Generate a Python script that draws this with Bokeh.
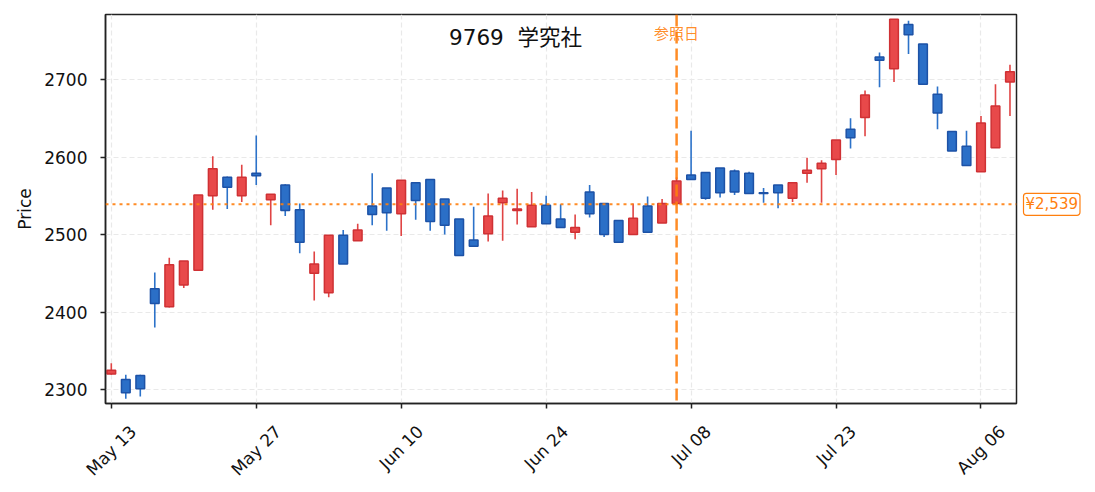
import math
import pandas as pd
from bokeh.plotting import figure
from bokeh.layouts import row
from bokeh.models import ColumnDataSource, FixedTicker, Label, Span, LinearAxis
from bokeh.embed import file_html
from bokeh.resources import INLINE

# ---- data ----
opens = [2320, 2313, 2318, 2430, 2407, 2435, 2454, 2550, 2574, 2550,
         2579, 2545, 2564, 2532, 2450, 2425, 2499, 2492, 2537, 2560,
         2527, 2567, 2571, 2546, 2520, 2493, 2501, 2541, 2531, 2510,
         2538, 2520, 2503, 2555, 2540, 2518, 2500, 2537, 2515, 2540,
         2577, 2580, 2586, 2582, 2579, 2554, 2564, 2547, 2579, 2585,
         2597, 2636, 2651, 2729, 2714, 2771, 2746, 2681, 2633, 2614,
         2581, 2612, 2697]
highs = [2334, 2319, 2319, 2451, 2470, 2466, 2551, 2601, 2575, 2590,
         2628, 2552, 2565, 2540, 2478, 2499, 2506, 2514, 2579, 2560,
         2570, 2567, 2571, 2546, 2520, 2536, 2553, 2557, 2559, 2555,
         2550, 2539, 2526, 2564, 2540, 2518, 2540, 2549, 2546, 2574,
         2634, 2580, 2586, 2584, 2581, 2560, 2564, 2567, 2599, 2596,
         2622, 2650, 2686, 2735, 2778, 2776, 2746, 2691, 2633, 2634,
         2653, 2694, 2719]
lows = [2319, 2288, 2291, 2380, 2406, 2431, 2454, 2532, 2533, 2542,
        2564, 2512, 2524, 2476, 2415, 2419, 2462, 2492, 2512, 2505,
        2498, 2519, 2505, 2500, 2473, 2485, 2491, 2492, 2513, 2510,
        2514, 2509, 2494, 2522, 2497, 2490, 2500, 2503, 2515, 2538,
        2571, 2545, 2548, 2551, 2553, 2541, 2534, 2542, 2567, 2541,
        2577, 2611, 2627, 2690, 2697, 2733, 2694, 2636, 2608, 2589,
        2581, 2612, 2653]
closes = [2325, 2296, 2301, 2411, 2461, 2466, 2551, 2585, 2561, 2574,
          2576, 2552, 2531, 2490, 2462, 2499, 2462, 2506, 2526, 2528,
          2570, 2544, 2517, 2512, 2473, 2485, 2524, 2547, 2533, 2538,
          2514, 2509, 2509, 2527, 2500, 2490, 2521, 2503, 2540, 2569,
          2571, 2547, 2554, 2555, 2553, 2553, 2554, 2567, 2583, 2592,
          2622, 2625, 2680, 2725, 2778, 2758, 2694, 2657, 2608, 2589,
          2644, 2666, 2710]

# trading days (Tokyo market, Jul 15 holiday)
dates = [d for d in pd.bdate_range("2024-05-13", "2024-08-08")
         if d != pd.Timestamp("2024-07-15")]
tick_idx = [0, 10, 20, 30, 40, 50, 60]
tick_labels = ["May 13", "May 27", "Jun 10", "Jun 24", "Jul 08", "Jul 23", "Aug 06"]
y_ticks = [2300, 2400, 2500, 2600, 2700]
ref_idx = 39          # 参照日 (Jul 05)
ref_price = 2539
title_text = "9769 \u00a0学究社"
price_text = "¥2,539"

UP_FILL, UP_EDGE, UP_WICK = "#e8494a", "#cf3134", "#e04444"
DN_FILL, DN_EDGE, DN_WICK = "#2b6fc7", "#1d52a6", "#2c72c9"
ORANGE = "#ff7f0e"
TXT = "#111111"
FS = 17  # base font size (px)

X0, X1 = -0.4, 62.45
FW, FH = 911, 389
PX_PER_UNIT = FW / (X1 - X0)

idx = list(range(len(opens)))
up = [c >= o for o, c in zip(opens, closes)]
src = ColumnDataSource(dict(
    x=idx,
    top=[max(o, c) for o, c in zip(opens, closes)],
    bottom=[min(o, c) for o, c in zip(opens, closes)],
    high=highs, low=lows,
    fill=[UP_FILL if u else DN_FILL for u in up],
    edge=[UP_EDGE if u else DN_EDGE for u in up],
    wick=[UP_WICK if u else DN_WICK for u in up],
))

p = figure(frame_width=FW, frame_height=FH, output_backend="svg",
           toolbar_location=None, x_range=(X0, X1), y_range=(2282, 2784),
           min_border_left=105, min_border_top=14, min_border_right=4,
           min_border_bottom=81)
p.outline_line_color = "#222222"
p.outline_line_width = 1.5
p.background_fill_color = "white"

for g in (p.xgrid, p.ygrid):
    g.grid_line_color = "#e9e9e9"
    g.grid_line_dash = "5 3"
    g.grid_line_width = 1.2

p.segment(x0="x", y0="low", x1="x", y1="high", source=src,
          line_color="wick", line_width=1.6)
p.vbar(x="x", width=0.6, top="top", bottom="bottom", source=src,
       fill_color="fill", line_color="edge", line_width=1.5)

p.add_layout(Span(location=ref_price, dimension="width", line_color=ORANGE,
                  line_width=2, line_dash="3 4", line_alpha=0.9))
p.add_layout(Span(location=ref_idx, dimension="height", line_color=ORANGE,
                  line_width=2.5, line_dash="12 5", line_alpha=0.9))

# axes (main x axis: tick marks only, labels not drawn)
p.xaxis.ticker = FixedTicker(ticks=tick_idx)
p.xaxis.major_label_text_font_size = "0px"
p.xaxis.major_label_text_color = None
p.xaxis.major_label_standoff = 0
p.yaxis.ticker = FixedTicker(ticks=y_ticks)
p.yaxis.axis_label = "Price"
for ax in (p.xaxis[0], p.yaxis[0]):
    ax.axis_line_color = "#222222"
    ax.axis_line_width = 1.5
    ax.major_tick_line_color = "#222222"
    ax.major_tick_line_width = 1.5
    ax.major_tick_out = 5
    ax.major_tick_in = 0
    ax.minor_tick_line_color = None
    ax.major_label_text_font = "DejaVu Sans"
p.yaxis.major_label_text_font_size = f"{FS}px"
p.yaxis.major_label_text_color = TXT
p.yaxis.major_label_standoff = 13
p.yaxis.axis_label_text_font = "DejaVu Sans"
p.yaxis.axis_label_text_font_size = f"{FS}px"
p.yaxis.axis_label_text_font_style = "normal"
p.yaxis.axis_label_text_color = TXT
p.yaxis.axis_label_standoff = 6

# date labels: rotated 45 deg and centred under each tick (matplotlib style)
W = {"M": .863, "a": .613, "y": .592, " ": .318, "J": .295, "u": .634,
     "n": .634, "l": .278, "A": .684, "g": .635}
lab_pos, lab_over = [], {}
for i, t in zip(tick_idx, tick_labels):
    L = sum(W.get(ch, .636) for ch in t) * FS
    pos = round(i + L / (2 * math.sqrt(2)) / PX_PER_UNIT, 4)
    lab_pos.append(pos)
    lab_over[pos] = t
ax2 = LinearAxis(ticker=FixedTicker(ticks=lab_pos), major_label_overrides=lab_over,
                 major_label_orientation=math.pi / 4, axis_line_color=None,
                 major_tick_line_color=None, major_tick_out=0, major_tick_in=0,
                 minor_tick_line_color=None, major_label_standoff=20,
                 major_label_text_font="DejaVu Sans",
                 major_label_text_font_size=f"{FS}px",
                 major_label_text_color=TXT)
p.add_layout(ax2, "below")

# title inside the plot
p.add_layout(Label(x=23.3, y=2754, text=title_text, text_align="left",
                   text_baseline="middle",
                   text_font="DejaVu Sans, Noto Sans CJK JP",
                   text_font_size="21.5px", text_color=TXT))
# 参照日 label
p.add_layout(Label(x=ref_idx, y=2761, text="参照日", text_align="center",
                   text_baseline="middle", text_font="Noto Sans CJK JP",
                   text_font_size="15px", text_color=ORANGE, text_alpha=0.9))

# right-hand strip carrying the price tag
side = figure(frame_width=67, frame_height=FH, output_backend="svg",
              toolbar_location=None, x_range=(0, 1), y_range=p.y_range,
              x_axis_type=None, y_axis_type=None,
              min_border_left=0, min_border_right=0,
              min_border_top=14, min_border_bottom=81)
side.outline_line_color = None
side.xgrid.visible = False
side.ygrid.visible = False
side.add_layout(Label(x=3, x_units="screen", y=ref_price, text=price_text,
                      text_align="left", text_baseline="middle",
                      text_font="DejaVu Sans", text_font_size="15px",
                      text_color=ORANGE, background_fill_color="white",
                      border_line_color=ORANGE, border_line_width=1.2,
                      padding=2, border_radius=3))

layout = row(p, side, spacing=0)
open("out.html", "w").write(file_html(layout, INLINE))
